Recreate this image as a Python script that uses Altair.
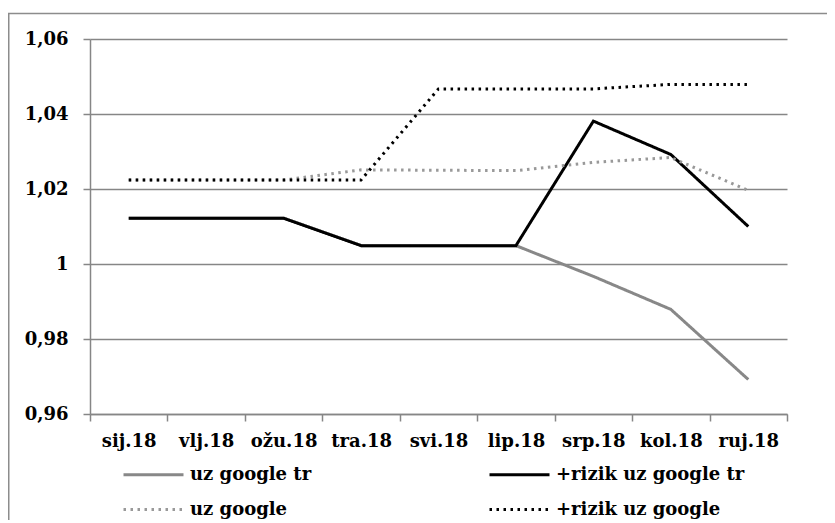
import altair as alt
import pandas as pd

months = ["sij.18", "vlj.18", "ožu.18", "tra.18", "svi.18", "lip.18", "srp.18", "kol.18", "ruj.18"]
series_names = ["uz google tr", "+rizik uz google tr", "uz google", "+rizik uz google"]
uz_google_tr = [1.0122, 1.0122, 1.0122, 1.0049, 1.0049, 1.0049, 0.9967, 0.9879, 0.9692]
rizik_uz_google_tr = [1.0122, 1.0122, 1.0122, 1.0049, 1.0049, 1.0049, 1.0381, 1.0292, 1.0100]
uz_google = [1.0224, 1.0224, 1.0224, 1.0251, 1.0250, 1.0249, 1.0271, 1.0284, 1.0196]
rizik_uz_google = [1.0224, 1.0224, 1.0224, 1.0224, 1.0467, 1.0467, 1.0467, 1.0479, 1.0479]
y_ticks = [0.96, 0.98, 1.0, 1.02, 1.04, 1.06]

series_values = [uz_google_tr, rizik_uz_google_tr, uz_google, rizik_uz_google]
rows = []
for name, vals in zip(series_names, series_values):
    for m, v in zip(months, vals):
        rows.append({"month": m, "value": v, "series": name})
df = pd.DataFrame(rows)

FONT = "DejaVu Serif"
FS = 18
colors = ["#888888", "#000000", "#999999", "#000000"]
dashes = [[1, 0], [1, 0], [2.5, 4.5], [2.5, 4.5]]

W, H = 697, 375

legend = alt.Legend(title=None, orient="none", legendX=32, legendY=424,
                    direction="horizontal", columns=2, columnPadding=171, rowPadding=14,
                    symbolType="M-1,0L5,0", symbolSize=400,
                    symbolStrokeWidth=3, labelOffset=45)

base = alt.Chart(df).mark_line(strokeWidth=3).encode(
    x=alt.X("month:N", sort=months, title=None,
            scale=alt.Scale(type="band", paddingInner=0, paddingOuter=0),
            axis=alt.Axis(tickBand="extent", tickSize=7, labelPadding=11, labelAngle=0,
                          grid=False)),
    y=alt.Y("value:Q", title=None,
            scale=alt.Scale(domain=[0.96, 1.06], nice=False, zero=False),
            axis=alt.Axis(values=y_ticks, tickSize=7, labelPadding=15, grid=True,
                          labelExpr="replace(format(datum.value, '.3~g'), '.', ',')")),
    color=alt.Color("series:N", scale=alt.Scale(domain=series_names, range=colors),
                    legend=legend),
    strokeDash=alt.StrokeDash("series:N", scale=alt.Scale(domain=series_names, range=dashes),
                              legend=legend),
)

layers = [base.transform_filter(alt.datum.series == n) for n in series_names]

border = alt.Chart(alt.Data(values=[{"a": 1}])).mark_rect(
    fillOpacity=0, stroke="#8c8c8c", strokeWidth=1.5
).encode(
    x=alt.value(-81.25), x2=alt.value(800), y=alt.value(-25.5), y2=alt.value(600)
)

chart = alt.layer(border, *layers).properties(
    width=W, height=H,
    autosize=alt.AutoSizeParams(type="none"),
    padding={"left": 82, "top": 31, "right": 40, "bottom": 106},
).configure_view(strokeWidth=0).configure_axis(
    labelFont=FONT, labelFontSize=FS, labelFontWeight="bold", labelColor="#000000",
    domainColor="#868686", gridColor="#868686", tickColor="#868686",
    domainWidth=1.5, gridWidth=1.5, tickWidth=1.5,
).configure_legend(
    labelFont=FONT, labelFontSize=FS, labelFontWeight="bold", labelColor="#000000",
    labelLimit=400, padding=0,
)

chart.save("out.html", embed_options={"renderer": "svg", "actions": False})
